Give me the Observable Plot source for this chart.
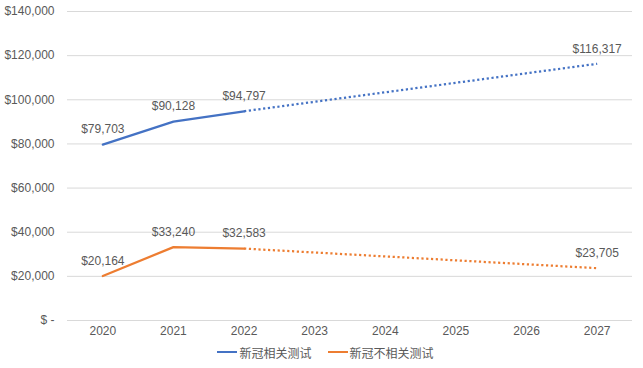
<!DOCTYPE html>
<html>
<head>
<meta charset="utf-8">
<script src="https://cdn.jsdelivr.net/npm/d3@7"></script>
<script src="https://cdn.jsdelivr.net/npm/@observablehq/plot@0.6"></script>
<style>
  html, body { margin: 0; padding: 0; background: #fff; }
  body { width: 643px; height: 368px; overflow: hidden; font-family: "Liberation Sans", "Noto Sans CJK SC", sans-serif; }
  #chart svg { display: block; }
  #legend { display: flex; justify-content: center; align-items: center; height: 24px; font-size: 12px; color: #595959; font-family: "Noto Sans CJK SC", sans-serif; padding-left: 8px; }
  .item { display: flex; align-items: center; margin: 0 8px; }
  .sw { width: 20px; height: 2.25px; margin-right: 2px; }
</style>
</head>
<body>
<div id="chart"></div>
<div id="legend"></div>
<script>
const years = ["2020", "2021", "2022", "2023", "2024", "2025", "2026", "2027"];
const seriesNames = ["新冠相关测试", "新冠不相关测试"];
const colors = ["#4472C4", "#ED7D31"];
const actualYears = ["2020", "2021", "2022"];
const blueActual = [79703, 90128, 94797];
const orangeActual = [20164, 33240, 32583];
const forecastYears = ["2022", "2027"];
const blueForecast = [94797, 116317];
const orangeForecast = [32583, 23705];
const yTicks = [0, 20000, 40000, 60000, 80000, 100000, 120000, 140000];

const actual = [];
actualYears.forEach((y, i) => {
  actual.push({year: y, value: blueActual[i], series: seriesNames[0]});
  actual.push({year: y, value: orangeActual[i], series: seriesNames[1]});
});
const forecast = [];
forecastYears.forEach((y, i) => {
  forecast.push({year: y, value: blueForecast[i], series: seriesNames[0]});
  forecast.push({year: y, value: orangeForecast[i], series: seriesNames[1]});
});
const labels = actual.concat(forecast.filter(d => d.year === "2027"));

const fmt = d3.format(",");
const money = v => v === 0 ? "$ -" : "$" + fmt(v);

const chart = Plot.plot({
  width: 643,
  height: 340,
  marginLeft: 67,
  marginRight: 11,
  marginTop: 11,
  marginBottom: 20,
  style: {fontFamily: '"Liberation Sans", "Noto Sans CJK SC", sans-serif', fontSize: "12px", color: "#595959", background: "#fff"},
  x: {type: "point", domain: years, padding: 0.5, round: false, label: null},
  y: {domain: [0, 140000], label: null},
  color: {domain: seriesNames, range: colors},
  marks: [
    Plot.ruleY(yTicks, {stroke: "#D9D9D9", strokeWidth: 1}),
    Plot.axisY({ticks: yTicks, tickSize: 0, tickPadding: 13, tickFormat: money, fill: "#595959", fontSize: 12}),
    Plot.axisX({tickSize: 0, tickPadding: 6, fill: "#595959", fontSize: 12}),
    Plot.line(actual, {x: "year", y: "value", z: "series", stroke: "series", strokeWidth: 2.25}),
    Plot.line(forecast, {x: "year", y: "value", z: "series", stroke: "series", strokeWidth: 2.25, strokeDasharray: "2.2,2.6", strokeLinecap: "butt"}),
    Plot.text(labels, {x: "year", y: "value", text: d => money(d.value), dy: -15, fill: "#595959", fontSize: 12})
  ]
});
document.getElementById("chart").appendChild(chart);

const legend = document.getElementById("legend");
seriesNames.forEach((n, i) => {
  const item = document.createElement("div");
  item.className = "item";
  const sw = document.createElement("div");
  sw.className = "sw";
  sw.style.background = colors[i];
  const t = document.createElement("span");
  t.textContent = n;
  item.appendChild(sw);
  item.appendChild(t);
  legend.appendChild(item);
});
</script>
</body>
</html>
